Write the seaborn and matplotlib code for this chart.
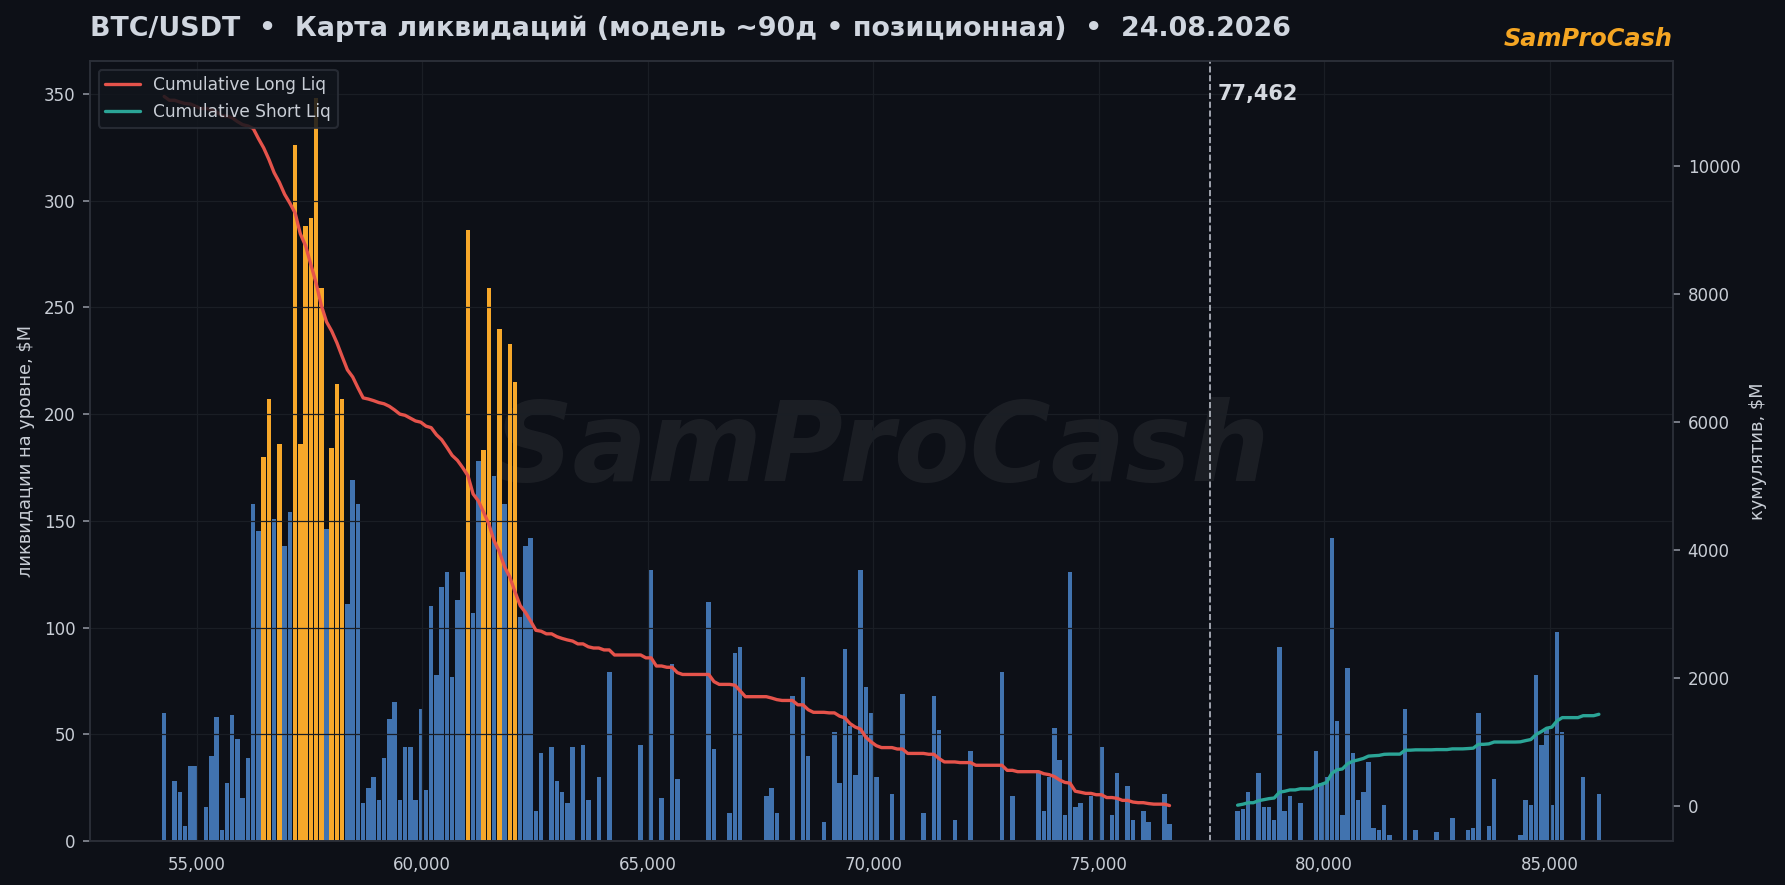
import numpy as np
import pandas as pd
import matplotlib
matplotlib.use("Agg")
import matplotlib.pyplot as plt
from matplotlib.ticker import MultipleLocator, FuncFormatter
import seaborn as sns

# Chart texts
TITLE = "BTC/USDT  •  Карта ликвидаций (модель ~90д • позиционная)  •  24.08.2026"
BRAND = "SamProCash"
CURRENT_PRICE = 77462

# Price grid of the model (centre of the first level, step between levels)
LEVEL_START = 54281
LEVEL_STEP = 116.1
SHORT_FIRST_LEVEL = 205  # index of the first level above the price

# Liquidations per level, $M (below the price -> longs, above -> shorts)
LONG_LIQ = [
    60, 0, 28, 23, 7, 35, 35, 0, 16, 40, 58, 5, 27, 59, 48, 20, 39,
    158, 145, 180, 207, 151, 186, 138, 154, 326, 186, 288, 292, 348, 259,
    146, 184, 214, 207, 111, 169, 158,
    18, 25, 30, 19, 39, 57, 65, 19, 44, 44, 19, 62, 24, 110, 78, 119, 126,
    77, 113, 126, 286, 107, 178, 183, 259, 171, 240, 158, 233, 215, 105,
    138, 142, 14, 41,
    0, 44, 28, 23, 18, 44, 0, 45, 19, 0, 30, 0, 79, 0, 0, 0, 0, 0, 45, 0,
    127, 0, 20, 0, 83, 29, 0, 0, 0, 0, 0, 112, 43, 0, 0, 13, 88, 91,
    0, 0, 0, 0, 21, 25, 13, 0, 0, 68, 0, 77, 40, 0, 0, 9, 0, 51, 27, 90,
    54, 31, 127, 72, 60, 30, 0, 0, 22, 0, 69, 0, 0, 0, 13, 0, 68, 52, 0,
    0, 10, 0, 0, 42, 0, 0, 0, 0, 0, 79, 0, 21, 0, 0, 0, 0, 32, 14, 30, 53,
    38, 12, 126, 16, 18, 0, 21, 0, 44, 0, 12, 32, 0, 26, 10, 0, 14, 9, 0,
    0, 22, 8,
]
SHORT_LIQ = [
    14, 15, 23, 0, 32, 16, 16, 10, 91, 14, 21, 0, 18, 0, 0, 42, 27, 30,
    142, 56, 12, 81, 41, 19, 23, 37, 6, 5, 17, 3, 0, 0, 62, 0, 5, 0, 0, 0,
    4, 0, 0, 11, 0, 0, 5, 6, 60, 0, 7, 29, 0, 0, 0, 0, 3, 19, 17, 78, 45,
    53, 17, 98, 51, 0, 0, 0, 30, 0, 0, 22,
]
HOT_LEVEL = 179  # clusters above this are highlighted

BG = "#0d1017"
BLUE = "#4173af"
ORANGE = "#f7a82a"
RED = "#e5534b"
TEAL = "#2ba597"
TXT = "#c8cdd5"
GRID = "#1a1e25"

long_levels = np.round(LEVEL_START + LEVEL_STEP * np.arange(len(LONG_LIQ)))
short_levels = np.round(LEVEL_START + LEVEL_STEP * (SHORT_FIRST_LEVEL + np.arange(len(SHORT_LIQ))))

df = pd.DataFrame({
    "price": np.concatenate([long_levels, short_levels]),
    "liq": LONG_LIQ + SHORT_LIQ,
})
df["zone"] = np.where(df["liq"] >= HOT_LEVEL, "hot", "normal")

long_cum = np.cumsum(LONG_LIQ[::-1])[::-1]
short_cum = np.cumsum(SHORT_LIQ)

sns.set_style("dark", rc={
    "axes.facecolor": BG,
    "figure.facecolor": BG,
    "axes.edgecolor": "#2b2f38",
    "grid.color": GRID,
    "text.color": TXT,
    "axes.labelcolor": TXT,
    "xtick.color": TXT,
    "ytick.color": TXT,
    "axes.axisbelow": "line",
})
plt.rcParams["font.family"] = ["DejaVu Sans"]

fig = plt.figure(figsize=(11.9, 5.9), dpi=150)
ax = fig.add_axes([0.0504, 0.0497, 0.8869, 0.8814])

sns.barplot(data=df, x="price", y="liq", hue="zone",
            palette={"normal": BLUE, "hot": ORANGE},
            native_scale=True, dodge=False, width=0.86, errorbar=None,
            saturation=1, legend=False, linewidth=0, edgecolor="none", ax=ax)
ax.set_ylim(0, max(df["liq"]) * 1.05)
ax.grid(True, color=GRID, lw=0.6)
ax.xaxis.set_major_locator(MultipleLocator(5000))
ax.yaxis.set_major_locator(MultipleLocator(50))
ax.xaxis.set_major_formatter(FuncFormatter(lambda v, p: f"{v:,.0f}"))
ax.set_xlabel("")
ax.set_ylabel("ликвидации на уровне, $M", fontsize=8.5)
ax.tick_params(labelsize=8, length=3.5, width=0.8, color="#8a8f99")

ax.text(0.5, 0.5, BRAND, transform=ax.transAxes, ha="center", va="center",
        fontsize=53, fontweight="bold", style="italic", color="white",
        alpha=0.06, zorder=0)

# current price
ax.axvline(CURRENT_PRICE, color="#b9bec8", lw=0.8, ls="--", zorder=3)
ax.annotate(f"{CURRENT_PRICE:,}", xy=(CURRENT_PRICE, 0.97),
            xycoords=("data", "axes fraction"), xytext=(4, 0),
            textcoords="offset points", ha="left", va="top",
            fontsize=10, fontweight="bold", color="#d5d9e0")

ax2 = ax.twinx()
sns.lineplot(x=long_levels, y=long_cum, color=RED, lw=1.6,
             label="Cumulative Long Liq", ax=ax2)
sns.lineplot(x=short_levels, y=short_cum, color=TEAL, lw=1.6,
             label="Cumulative Short Liq", ax=ax2)
ax2.grid(False)
ax2.yaxis.set_major_locator(MultipleLocator(2000))
ax2.set_ylabel("кумулятив, $M", fontsize=8.5)
ax2.tick_params(labelsize=8, length=3.5, width=0.8, color="#8a8f99")
for s in ax2.spines.values():
    s.set_color("#2b2f38")
leg = ax2.legend(loc="upper left", fontsize=8.2, facecolor="#11151c",
                 edgecolor="#2b2f38", framealpha=0.85, labelcolor=TXT)

fig.text(90 / 1785, 1 - 36 / 885, TITLE, ha="left", va="baseline",
         fontsize=12.9, fontweight="bold", color="#d0d6df")
fig.text(1673 / 1785, 1 - 46 / 885, BRAND, ha="right", va="baseline",
         fontsize=11.5, fontweight="bold", style="italic", color="#f5a623")

fig.savefig("out.png", dpi=150, facecolor=BG)
